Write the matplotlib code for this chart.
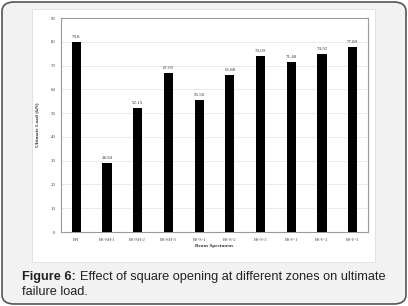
import matplotlib
matplotlib.use("Agg")
import matplotlib.pyplot as plt
from matplotlib.patches import FancyBboxPatch, Rectangle

categories = ["BN", "BS-SH-1", "BS-SH-2", "BS-SH-3", "BS-S-1", "BS-S-2",
              "BS-S-3", "BS-F-1", "BS-F-2", "BS-F-3"]
values = [79.8, 28.94, 52.15, 67.05, 55.56, 65.88, 74.09, 71.48, 74.92, 77.89]
value_labels = ["79.8", "28.94", "52.15", "67.05", "55.56", "65.88",
                "74.09", "71.48", "74.92", "77.89"]
yticks = [0, 10, 20, 30, 40, 50, 60, 70, 80, 90]

W, H = 408, 306
fig = plt.figure(figsize=(W / 100, H / 100), dpi=100)
fig.patch.set_facecolor("white")

# rounded outer card
card = FancyBboxPatch((2 / W, 2 / H), (W - 4) / W, (H - 4) / H,
                      boxstyle="round,pad=0,rounding_size=0.03",
                      transform=fig.transFigure, facecolor="#f2f2f2",
                      edgecolor="#555555", linewidth=1.2, zorder=0)
fig.patches.append(card)

# white chart panel
panel = Rectangle((32 / W, 1 - 262 / H), (375 - 32) / W, (262 - 9) / H,
                  transform=fig.transFigure, facecolor="white",
                  edgecolor="#dddddd", linewidth=0.6, zorder=0.5)
fig.patches.append(panel)

ax = fig.add_axes([61 / W, 1 - 232 / H, (368 - 61) / W, (232 - 18) / H])
ax.set_zorder(2)
x = range(len(categories))
ax.bar(x, values, width=0.3, color="black", zorder=3)
for xi, v, lab in zip(x, values, value_labels):
    ax.text(xi, v + 1.2, lab, ha="center", va="bottom", fontsize=3.5,
            family="Liberation Serif", color="#333333")

ax.set_ylim(0, 90)
ax.set_xlim(-0.5, len(categories) - 0.5)
ax.set_yticks(yticks)
ax.set_yticklabels([str(t) for t in yticks], fontsize=3.5, family="Liberation Serif", color="#444444")
ax.set_xticks(list(x))
ax.set_xticklabels(categories, fontsize=3.3, family="Liberation Serif", color="#444444")
ax.tick_params(length=0, pad=4)
ax.yaxis.grid(True, color="#e6e6e6", linewidth=0.6, zorder=0)
ax.set_axisbelow(True)
for s in ax.spines.values():
    s.set_color("#999999")
    s.set_linewidth(0.8)
ax.set_ylabel("Ultimate Load (kN)", fontsize=3.8, family="Liberation Serif",
              fontweight="bold", color="#333333", labelpad=8)
ax.set_xlabel("Beam Specimens", fontsize=3.8, family="Liberation Serif",
              fontweight="bold", color="#333333", labelpad=2)

cap_size = 9.2
t1 = fig.text(22 / W, 1 - 277 / H, "Figure 6:", fontsize=cap_size, fontweight="bold",
              family="Liberation Sans", color="#222222", va="center")
fig.canvas.draw()
bb = t1.get_window_extent(renderer=fig.canvas.get_renderer())
fig.text(bb.x1 / W + 4 / W, 1 - 277 / H, "Effect of square opening at different zones on ultimate",
         fontsize=cap_size, family="Liberation Sans", color="#222222", va="center")
fig.text(22 / W, 1 - 292 / H, "failure load.", fontsize=cap_size,
         family="Liberation Sans", color="#222222", va="center")

fig.savefig("out.png", dpi=100)
